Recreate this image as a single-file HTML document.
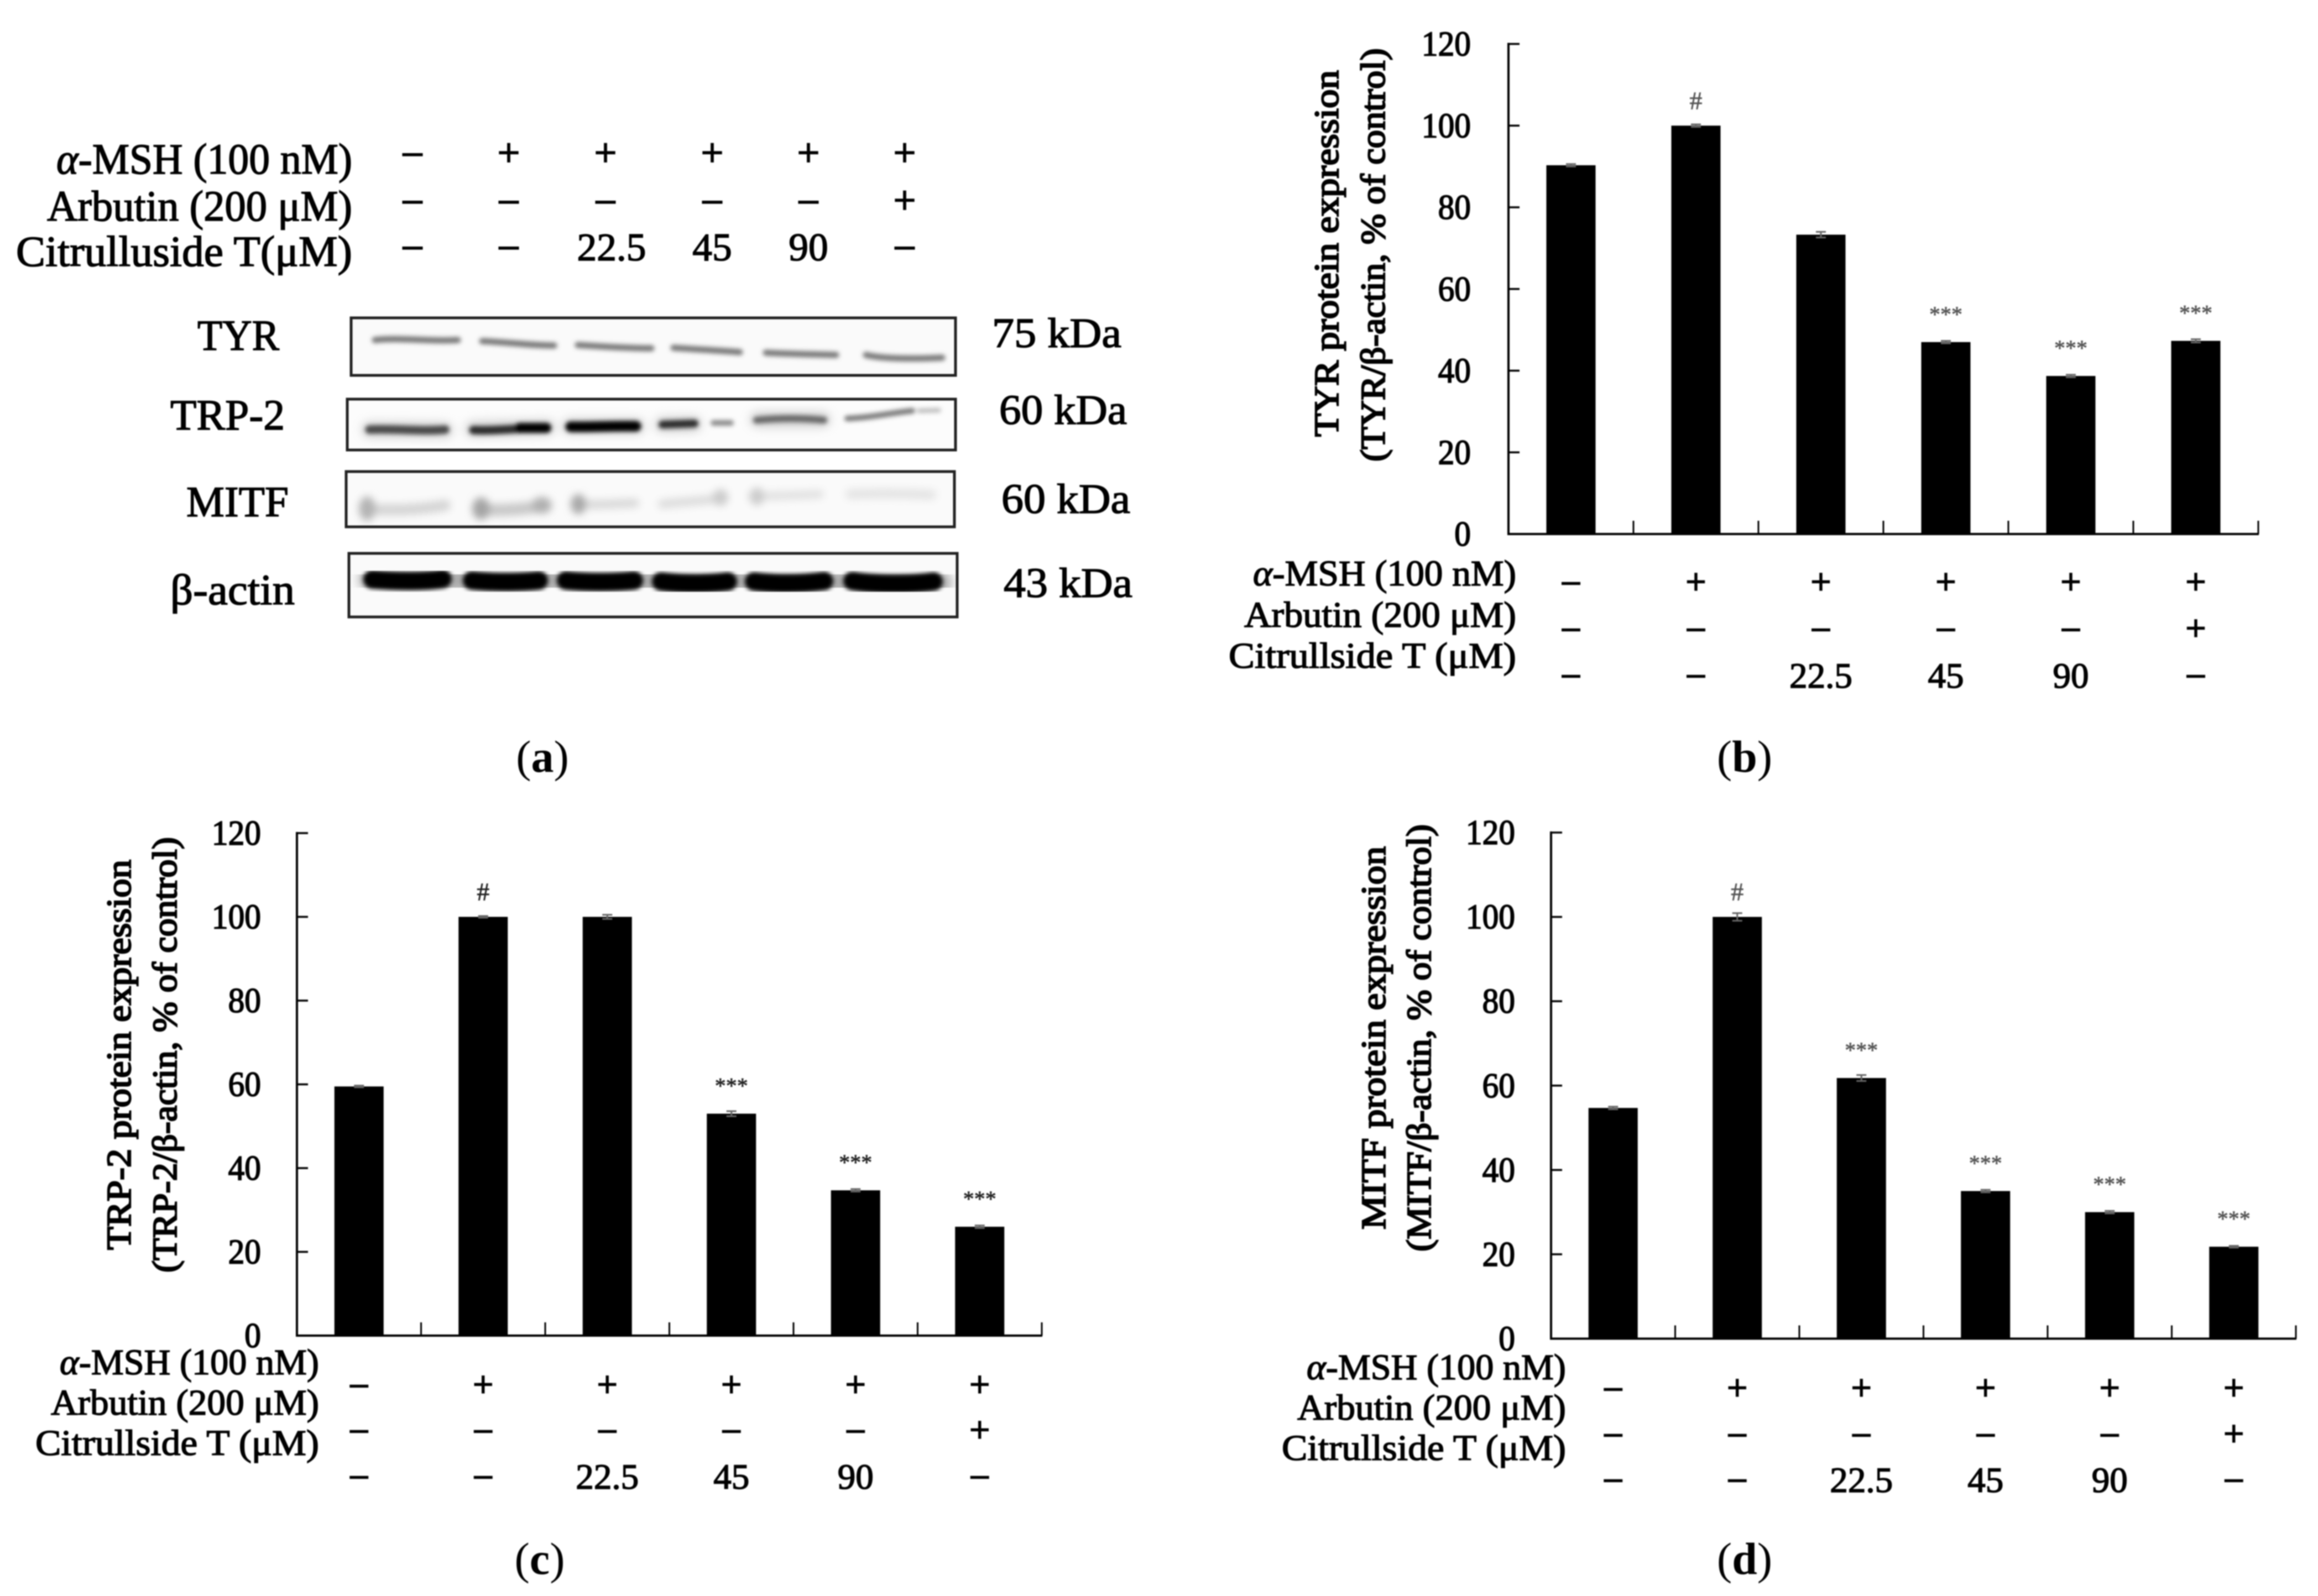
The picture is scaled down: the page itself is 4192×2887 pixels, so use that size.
<!DOCTYPE html>
<html lang="en">
<head>
<meta charset="utf-8">
<title>Citrulluside T western blot and protein expression charts</title>
<style>
html,body{margin:0;padding:0;background:#fff;}
svg{display:block;filter:blur(1px);}
text{font-family:"Liberation Serif","Noto Serif CJK SC",serif;fill:#000;}
</style>
</head>
<body>
<svg id="figure" xmlns="http://www.w3.org/2000/svg" width="4192" height="2887" viewBox="0 0 4192 2887">
<defs>
<filter id="blur4" x="-20%" y="-150%" width="140%" height="400%"><feGaussianBlur stdDeviation="4"/></filter>
<filter id="blur7" x="-20%" y="-150%" width="140%" height="400%"><feGaussianBlur stdDeviation="7"/></filter>
<filter id="blur9" x="-20%" y="-150%" width="140%" height="400%"><feGaussianBlur stdDeviation="9"/></filter>
<clipPath id="clip-tyr"><rect x="635" y="575" width="1093" height="104"/></clipPath>
<clipPath id="clip-trp"><rect x="628" y="722" width="1100" height="92"/></clipPath>
<clipPath id="clip-mitf"><rect x="626" y="853" width="1100" height="100"/></clipPath>
<clipPath id="clip-actin"><rect x="631" y="1001" width="1100" height="115"/></clipPath>
</defs>

<g>
  <g>
    <rect x="635" y="575" width="1093" height="104" fill="#fafafa"/>
    <g clip-path="url(#clip-tyr)" fill="none" stroke-linecap="round">
      <g filter="url(#blur4)" stroke="#777" stroke-width="11">
        <path d="M678 615 C720 610 780 618 828 615"/>
        <path d="M872 617 C920 619 960 625 1002 625"/>
        <path d="M1045 624 C1090 627 1140 630 1178 630"/>
        <path d="M1218 629 C1260 632 1300 634 1338 637"/>
        <path d="M1385 638 C1420 640 1470 641 1512 642"/>
        <path d="M1566 642 C1600 650 1660 649 1704 647"/>
      </g>
    </g>
    <rect x="635" y="575" width="1093" height="104" fill="none" stroke="#222" stroke-width="5"/>
  </g>

  <g>
    <rect x="628" y="722" width="1100" height="92" fill="#fcfcfc"/>
    <g clip-path="url(#clip-trp)" fill="none" stroke-linecap="round">
      <g filter="url(#blur9)" stroke="#ccc" stroke-width="26">
        <path d="M668 777 L805 778"/><path d="M855 776 L990 773"/><path d="M1030 771 L1152 771"/><path d="M1198 768 L1255 767"/><path d="M1370 759 L1488 759"/>
      </g>
      <g filter="url(#blur4)">
        <path d="M668 777 C720 775 760 781 805 777" stroke="#4a4a4a" stroke-width="15"/>
        <path d="M856 778 C900 780 950 773 988 774" stroke="#2a2a2a" stroke-width="15"/>
        <path d="M940 774 L988 774" stroke="#000" stroke-width="18"/>
        <path d="M1032 772 C1070 773 1110 770 1150 771" stroke="#000" stroke-width="19"/>
        <path d="M1198 768 L1256 766" stroke="#2a2a2a" stroke-width="14"/>
        <path d="M1290 765 L1322 765" stroke="#888" stroke-width="10"/>
        <path d="M1368 760 C1410 756 1450 756 1490 760" stroke="#666" stroke-width="12"/>
        <path d="M1532 757 C1580 755 1610 747 1650 743" stroke="#777" stroke-width="10"/>
        <path d="M1662 743 L1698 742" stroke="#bbb" stroke-width="8"/>
      </g>
    </g>
    <rect x="628" y="722" width="1100" height="92" fill="none" stroke="#222" stroke-width="5"/>
  </g>

  <g>
    <rect x="626" y="853" width="1100" height="100" fill="#fafafa"/>
    <g clip-path="url(#clip-mitf)" fill="none" stroke-linecap="round" filter="url(#blur7)">
      <path d="M664 921 C710 924 760 922 805 914" stroke="#d4d4d4" stroke-width="20"/>
      <ellipse cx="664" cy="920" rx="15" ry="22" fill="#b4b4b4"/>
      <path d="M868 922 C900 924 950 922 985 914" stroke="#c8c8c8" stroke-width="22"/>
      <ellipse cx="870" cy="920" rx="16" ry="20" fill="#a4a4a4"/>
      <ellipse cx="980" cy="914" rx="18" ry="15" fill="#b0b0b0"/>
      <path d="M1050 912 C1080 914 1115 911 1148 910" stroke="#d8d8d8" stroke-width="16"/>
      <ellipse cx="1046" cy="912" rx="14" ry="18" fill="#a8a8a8"/>
      <path d="M1198 912 C1230 908 1270 906 1300 902" stroke="#dcdcdc" stroke-width="16"/>
      <ellipse cx="1303" cy="900" rx="14" ry="15" fill="#ccc"/>
      <path d="M1360 898 C1400 897 1440 896 1482 894" stroke="#e0e0e0" stroke-width="15"/>
      <ellipse cx="1369" cy="898" rx="13" ry="16" fill="#ccc"/>
      <path d="M1538 894 C1590 892 1640 893 1684 895" stroke="#e4e4e4" stroke-width="18"/>
    </g>
    <rect x="626" y="853" width="1100" height="100" fill="none" stroke="#222" stroke-width="5"/>
  </g>

  <g>
    <rect x="631" y="1001" width="1100" height="115" fill="#fafafa"/>
    <g clip-path="url(#clip-actin)" fill="none" stroke-linecap="round">
      <g filter="url(#blur9)" stroke="#aaa" stroke-width="42">
        <path d="M670 1048 L1700 1054"/>
      </g>
      <g filter="url(#blur4)" stroke="#000" stroke-width="34">
        <path d="M674 1048 C720 1052 770 1052 800 1047"/>
        <path d="M854 1050 C890 1054 940 1054 974 1050"/>
        <path d="M1024 1050 C1060 1054 1110 1054 1146 1050"/>
        <path d="M1196 1052 C1230 1057 1280 1057 1316 1052"/>
        <path d="M1364 1052 C1400 1057 1450 1057 1490 1051"/>
        <path d="M1542 1051 C1580 1058 1650 1058 1688 1052"/>
      </g>
    </g>
    <rect x="631" y="1001" width="1100" height="115" fill="none" stroke="#222" stroke-width="5"/>
  </g>
</g>
<g id="overlay"></g>
</svg>

<script>
/* ---------- chart data ---------- */
const categories = ["Control", "a-MSH", "Citrulluside T 22.5", "Citrulluside T 45", "Citrulluside T 90", "Arbutin"];
const tickLabels = [0, 20, 40, 60, 80, 100, 120];
const mshRow = ["–", "+", "+", "+", "+", "+"];
const arbutinRow = ["–", "–", "–", "–", "–", "+"];
const citrullusideRow = ["–", "–", "22.5", "45", "90", "–"];

const tyrValues = [90.3, 100, 73.3, 47, 38.7, 47.3];
const tyrErrors = [0.3, 0.3, 0.7, 0.3, 0.3, 0.4];
const tyrMarks = ["", "#", "", "***", "***", "***"];

const trpValues = [59.5, 100, 100, 53, 34.7, 26];
const trpErrors = [0.2, 0.2, 0.5, 0.6, 0.3, 0.3];
const trpMarks = ["", "#", "", "***", "***", "***"];

const mitfValues = [54.7, 100, 61.8, 35, 30, 21.8];
const mitfErrors = [0.3, 0.9, 0.7, 0.3, 0.3, 0.2];
const mitfMarks = ["", "#", "***", "***", "***", "***"];

/* ---------- helpers ---------- */
const NS = "http://www.w3.org/2000/svg";
const overlay = document.getElementById("overlay");

function mk(tag, name, parent, attrs) {
  const el = document.createElementNS(NS, tag);
  
  
  for (const k in attrs) el.setAttribute(k, attrs[k]);
  parent.appendChild(el);
  return el;
}
function txt(name, parent, str, attrs, weight) {
  const a = Object.assign({ stroke: "#000", "stroke-width": weight === undefined ? 1.6 : weight }, attrs);
  const el = mk("text", name, parent, a);
  el.textContent = str;
  return el;
}
/* label that starts with an italic alpha */
function alphaLabel(name, parent, attrs) {
  const el = mk("text", name, parent, Object.assign({ stroke: "#000", "stroke-width": 1.6 }, attrs));
  const a = document.createElementNS(NS, "tspan");
  a.setAttribute("font-style", "italic");
  a.textContent = "α";
  el.appendChild(a);
  el.appendChild(document.createTextNode("-MSH (100 nM)"));
  return el;
}
function fit(x, y, right, size) {
  return { x: x, y: y, "font-size": size, textLength: right - x, lengthAdjust: "spacingAndGlyphs" };
}
function markerText(name, parent, str, x, cy, size) {
  const isNum = /\d/.test(str);
  const isPlus = str === "+";
  const off = isNum ? 0.34 : (isPlus ? 0.31 : 0.24);
  const el = txt(name, parent, str, {
    x: x, y: cy + off * size, "font-size": isPlus ? size * 1.05 : (isNum ? size * 1.05 : size), "text-anchor": "middle"
  }, isNum ? 1.6 : 2.2);
  return el;
}

/* ---------- bar chart ---------- */
function drawChart(cfg, values, errors, marks) {
  const g = mk("g", cfg.id + "-chart", overlay, {});
  const slot = (cfg.xEnd - cfg.x0) / categories.length;
  const xScale = i => cfg.x0 + slot * (i + 0.5);
  const yScale = v => cfg.y0 - (v / 120) * (cfg.y0 - cfg.yTop);

  values.forEach((v, i) => {
    const top = yScale(v);
    mk("rect", cfg.id + "-bar-" + (i + 1), g, {
      x: xScale(i) - 44.5, y: top, width: 89, height: cfg.y0 - top, fill: "#000"
    });
    const e = errors[i];
    mk("path", cfg.id + "-error-bar-" + (i + 1), g, {
      d: "M" + (xScale(i) - 9) + " " + yScale(v + e) + "H" + (xScale(i) + 9) +
         "M" + xScale(i) + " " + yScale(v + e) + "V" + yScale(v - e) +
         "M" + (xScale(i) - 9) + " " + yScale(v - e) + "H" + (xScale(i) + 9),
      stroke: "#666", "stroke-width": 3, fill: "none"
    });
    const m = marks[i];
    if (m === "***") {
      txt(cfg.id + "-significance-" + (i + 1), g, m, {
        x: xScale(i), y: top - 55 + 18, "font-size": 40, "text-anchor": "middle",
        style: "fill:" + cfg.markColor + ";stroke:" + cfg.markColor
      }, 0.7);
    } else if (m === "#") {
      txt(cfg.id + "-significance-" + (i + 1), g, m, {
        x: xScale(i), y: top - 46 + 16, "font-size": 46, "text-anchor": "middle",
        style: "fill:" + cfg.markColor + ";stroke:" + cfg.markColor
      }, 0.7);
    }
  });

  mk("line", cfg.id + "-y-axis", g, { x1: cfg.x0, y1: cfg.yTop - 2, x2: cfg.x0, y2: cfg.y0 + 2, stroke: "#000", "stroke-width": 4 });
  mk("line", cfg.id + "-x-axis", g, { x1: cfg.x0 - 2, y1: cfg.y0, x2: cfg.xEnd + 1, y2: cfg.y0, stroke: "#000", "stroke-width": 4 });

  tickLabels.forEach(t => {
    const y = yScale(t);
    mk("line", cfg.id + "-y-tick-" + t, g, { x1: cfg.x0, y1: y, x2: cfg.x0 + 20, y2: y, stroke: "#000", "stroke-width": 3.5 });
    txt(cfg.id + "-y-tick-label-" + t, g, String(t), {
      x: cfg.tickRight, y: y + 21, "font-size": 64, "text-anchor": "end",
      textLength: String(t).length * 29.7, lengthAdjust: "spacingAndGlyphs"
    }, 1.8);
  });
  categories.forEach((c, i) => {
    const x = cfg.x0 + slot * (i + 1);
    mk("line", cfg.id + "-x-tick-" + (i + 1), g, { x1: x, y1: cfg.y0, x2: x, y2: cfg.y0 - 24, stroke: "#000", "stroke-width": 3 });
  });

  /* y axis title */
  txt(cfg.id + "-y-axis-title-line-1", g, cfg.title1, {
    x: cfg.t1x, y: cfg.t1b, "font-size": 62,
    textLength: cfg.t1b - cfg.t1t, lengthAdjust: "spacingAndGlyphs",
    transform: "rotate(-90 " + cfg.t1x + " " + cfg.t1b + ")"
  }, 2.4);
  txt(cfg.id + "-y-axis-title-line-2", g, cfg.title2, {
    x: cfg.t2x, y: cfg.t2b, "font-size": 62,
    textLength: cfg.t2b - cfg.t2t, lengthAdjust: "spacingAndGlyphs",
    transform: "rotate(-90 " + cfg.t2x + " " + cfg.t2b + ")"
  }, 2.4);

  /* treatment labels */
  alphaLabel(cfg.id + "-msh-label", g, fit(cfg.mshLeft, cfg.labelBase[0], cfg.labelRight, 66));
  txt(cfg.id + "-arbutin-label", g, "Arbutin (200 μM)", fit(cfg.arbLeft, cfg.labelBase[1], cfg.labelRight, 66));
  txt(cfg.id + "-citrulluside-label", g, "Citrullside T (μM)", fit(cfg.citLeft, cfg.labelBase[2], cfg.labelRight, 66));

  [mshRow, arbutinRow, citrullusideRow].forEach((row, r) => {
    row.forEach((s, i) => {
      markerText(cfg.id + "-treatment-r" + (r + 1) + "-c" + (i + 1), g, s, xScale(i), cfg.rowY[r], 62);
    });
  });

  /* panel caption */
  captionText(cfg.id + "-caption", cfg.captionX, cfg.captionY, cfg.letter);
}
function captionText(name, x, y, letter) {
  const el = mk("text", name, overlay, { x: x, y: y, "font-size": 82, "text-anchor": "middle" });
  el.appendChild(document.createTextNode("("));
  const b = document.createElementNS(NS, "tspan");
  b.setAttribute("font-weight", "700");
  b.textContent = letter;
  el.appendChild(b);
  el.appendChild(document.createTextNode(")"));
}

drawChart({
  id: "tyr", letter: "b", x0: 2728, xEnd: 4084, yTop: 79.5, y0: 966, tickRight: 2660, markColor: "#555",
  title1: "TYR protein expression", title2: "(TYR/β-actin, % of control)",
  t1x: 2420, t1t: 127, t1b: 790, t2x: 2504, t2t: 87, t2b: 835,
  mshLeft: 2266, arbLeft: 2250, citLeft: 2222, labelRight: 2742, labelBase: [1059, 1134, 1208],
  rowY: [1055, 1139, 1223], captionX: 3155, captionY: 1396
}, tyrValues, tyrErrors, tyrMarks);

drawChart({
  id: "trp2", letter: "c", x0: 537, xEnd: 1884, yTop: 1507, y0: 2416, tickRight: 472, markColor: "#222",
  title1: "TRP-2 protein expression", title2: "(TRP-2/β-actin, % of control)",
  t1x: 236, t1t: 1555, t1b: 2261, t2x: 319, t2t: 1514, t2b: 2302,
  mshLeft: 108, arbLeft: 92, citLeft: 64, labelRight: 577, labelBase: [2486, 2559, 2632],
  rowY: [2507, 2589, 2672], captionX: 976, captionY: 2847
}, trpValues, trpErrors, trpMarks);

drawChart({
  id: "mitf", letter: "d", x0: 2805, xEnd: 4152, yTop: 1506, y0: 2421.5, tickRight: 2740, markColor: "#555",
  title1: "MITF protein expression", title2: "(MITF/β-actin, % of control)",
  t1x: 2505, t1t: 1531, t1b: 2224, t2x: 2587, t2t: 1491, t2b: 2264,
  mshLeft: 2363, arbLeft: 2346, citLeft: 2318, labelRight: 2832, labelBase: [2495, 2568, 2641],
  rowY: [2513, 2596, 2678], captionX: 3155, captionY: 2847
}, mitfValues, mitfErrors, mitfMarks);

/* ---------- panel a annotations ---------- */
const panelA = mk("g", "panel-a-labels", overlay, {});
alphaLabel("blot-msh-label", panelA, fit(102, 314, 637, 78));
txt("blot-arbutin-label", panelA, "Arbutin (200 μM)", fit(85, 399, 637, 78));
txt("blot-citrulluside-label", panelA, "Citrulluside T(μM)", fit(29, 481, 637, 78));
const laneX = [746, 920, 1095, 1288, 1462, 1636];
const laneRowY = [279, 365, 448];
[mshRow, arbutinRow, citrullusideRow].forEach((row, r) => {
  row.forEach((s, i) => {
    const shift = s === "22.5" ? 11 : 0;
    markerText("blot-treatment-r" + (r + 1) + "-c" + (i + 1), panelA, s, laneX[i] + shift, laneRowY[r], 68);
  });
});
txt("tyr-blot-label", panelA, "TYR", fit(357, 633, 505, 78));
txt("trp2-blot-label", panelA, "TRP-2", fit(308, 777, 515, 78));
txt("mitf-blot-label", panelA, "MITF", fit(337, 934, 522, 78));
txt("beta-actin-blot-label", panelA, "β-actin", fit(308, 1093, 533, 78));
txt("tyr-weight-label", panelA, "75 kDa", fit(1794, 628, 2028, 76));
txt("trp2-weight-label", panelA, "60 kDa", fit(1807, 767, 2038, 76));
txt("mitf-weight-label", panelA, "60 kDa", fit(1811, 928, 2044, 76));
txt("beta-actin-weight-label", panelA, "43 kDa", fit(1815, 1080, 2048, 76));
captionText("blot-caption", 981, 1396, "a");
</script>
</body>
</html>
